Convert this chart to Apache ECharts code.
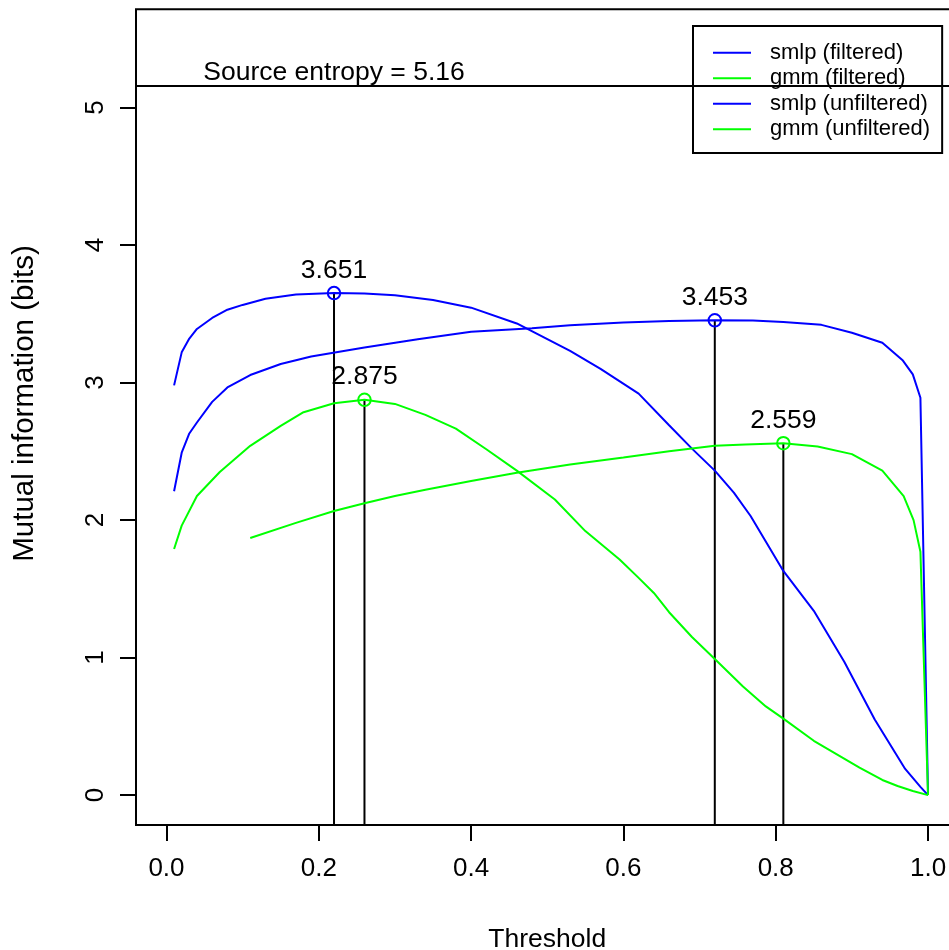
<!DOCTYPE html>
<html>
<head>
<meta charset="utf-8">
<script src="https://cdn.jsdelivr.net/npm/echarts@6/dist/echarts.min.js"></script>
<style>
html,body{margin:0;padding:0;background:#fff;overflow:hidden;}
#chart{width:949px;height:950px;}
</style>
</head>
<body>
<div id="chart"></div>
<script>
// ---- data ----
const seriesNames = ['smlp (filtered)', 'gmm (filtered)', 'smlp (unfiltered)', 'gmm (unfiltered)'];
const seriesColors = ['#0000FF', '#00FF00', '#0000FF', '#00FF00'];

const smlpFilteredX = [0.01,0.02,0.03,0.04,0.06,0.08,0.10,0.13,0.17,0.22,0.26,0.30,0.35,0.40,0.46,0.53,0.57,0.62,0.66,0.69,0.72,0.745,0.767,0.81,0.85,0.89,0.93,0.97,0.99,1.0];
const smlpFilteredY = [2.98,3.22,3.32,3.39,3.47,3.53,3.565,3.61,3.64,3.651,3.648,3.635,3.60,3.545,3.43,3.23,3.10,2.92,2.69,2.52,2.36,2.20,2.03,1.63,1.34,0.97,0.55,0.19,0.06,0.0];

const gmmFilteredX = [0.01,0.02,0.04,0.07,0.11,0.15,0.18,0.22,0.26,0.30,0.34,0.38,0.42,0.46,0.51,0.55,0.595,0.62,0.64,0.66,0.69,0.72,0.757,0.787,0.81,0.85,0.91,0.94,0.96,0.98,1.0];
const gmmFilteredY = [1.79,1.96,2.175,2.35,2.54,2.685,2.785,2.85,2.875,2.845,2.765,2.665,2.515,2.36,2.15,1.92,1.714,1.58,1.47,1.33,1.15,0.99,0.79,0.645,0.556,0.395,0.20,0.11,0.066,0.03,0.0];

const smlpUnfilteredX = [0.01,0.02,0.03,0.04,0.06,0.08,0.11,0.15,0.19,0.26,0.33,0.40,0.48,0.53,0.60,0.66,0.72,0.77,0.81,0.86,0.90,0.94,0.967,0.98,0.99,1.0];
const smlpUnfilteredY = [2.21,2.49,2.63,2.71,2.86,2.965,3.055,3.135,3.19,3.255,3.315,3.37,3.395,3.417,3.437,3.448,3.453,3.451,3.44,3.42,3.363,3.29,3.16,3.06,2.89,0.0];

const gmmUnfilteredX = [0.11,0.17,0.22,0.26,0.30,0.34,0.40,0.46,0.53,0.60,0.66,0.72,0.76,0.81,0.855,0.90,0.94,0.968,0.981,0.99,1.0];
const gmmUnfilteredY = [1.87,1.98,2.066,2.122,2.175,2.22,2.285,2.345,2.405,2.455,2.50,2.54,2.55,2.559,2.536,2.48,2.36,2.175,2.00,1.77,0.0];

const sourceEntropy = 5.16;
const entropyLabelX = 0.22;
const xTicks = [0, 0.2, 0.4, 0.6, 0.8, 1.0];
const yTicks = [0, 1, 2, 3, 4, 5];
const xTitle = 'Threshold';
const yTitle = 'Mutual information (bits)';

// ---- build ----
const curvesX = [smlpFilteredX, gmmFilteredX, smlpUnfilteredX, gmmUnfilteredX];
const curvesY = [smlpFilteredY, gmmFilteredY, smlpUnfilteredY, gmmUnfilteredY];
const X_MIN = -0.04, X_MAX = 1.04, Y_MIN = -0.2175, Y_MAX = 5.715;
const FONT = 'Liberation Sans, Arial, Helvetica, sans-serif';

const series = [];
curvesX.forEach((xs, i) => {
  series.push({
    name: seriesNames[i], type: 'line', symbol: 'none', silent: true,
    data: xs.map((x, j) => [x, curvesY[i][j]]),
    lineStyle: { color: seriesColors[i], width: 2 },
    itemStyle: { color: seriesColors[i] },
    z: 3
  });
});

// peaks computed from data
const peaks = curvesY.map((ys, i) => {
  let k = 0;
  ys.forEach((v, j) => { if (v > ys[k]) k = j; });
  return { x: curvesX[i][k], y: ys[k], color: seriesColors[i] };
});

peaks.forEach(p => {
  series.push({
    type: 'line', symbol: 'none', silent: true,
    data: [[p.x, Y_MIN], [p.x, p.y]],
    lineStyle: { color: '#000', width: 2 }, z: 2
  });
});

series.push({
  type: 'scatter', silent: true,
  symbol: 'circle', symbolSize: 12.5,
  itemStyle: { opacity: 1 },
  data: peaks.map(p => ({ value: [p.x, p.y], itemStyle: { color: 'rgba(255,255,255,0)', borderColor: p.color, borderWidth: 2, opacity: 1 } })),
  label: {
    show: true, position: 'top', distance: 2,
    formatter: (d) => d.value[1].toFixed(3),
    color: '#000', fontSize: 26.5, fontFamily: FONT, opacity: 1
  },
  z: 5
});

// source entropy line + label
series.push({
  type: 'scatter', silent: true, symbolSize: 0,
  itemStyle: { opacity: 1 },
  data: [[entropyLabelX, sourceEntropy]],
  label: {
    show: true, position: 'top', distance: -1,
    formatter: 'Source entropy = ' + sourceEntropy.toFixed(2),
    color: '#000', fontSize: 26.5, fontFamily: FONT, opacity: 1
  },
  markLine: {
    silent: true, symbol: 'none', label: { show: false },
    lineStyle: { color: '#000', width: 2, type: 'solid', opacity: 1 },
    data: [{ yAxis: sourceEntropy }]
  },
  z: 4
});

const chart = echarts.init(document.getElementById('chart'), null, { renderer: 'canvas' });
chart.setOption({
  animation: false,
  backgroundColor: '#fff',
  textStyle: { fontFamily: FONT },
  grid: {
    left: 136, top: 9.3, right: -9.5, bottom: 125,
    show: true, borderColor: '#000', borderWidth: 2, backgroundColor: 'transparent',
    containLabel: false, outerBoundsMode: 'none'
  },
  legend: {
    data: seriesNames,
    orient: 'vertical', left: 693, top: 26,
    padding: [14, 12, 11, 20],
    itemWidth: 38, itemHeight: 2, itemGap: 0,
    icon: 'rect',
    backgroundColor: '#fff', borderColor: '#000', borderWidth: 2, borderRadius: 0,
    selectedMode: false,
    textStyle: { fontSize: 22, color: '#000', fontFamily: FONT, lineHeight: 25.5, padding: [0, 0, 0, 14] }
  },
  graphic: [{
    type: 'text', rotation: Math.PI / 2,
    x: 25, y: 403.5,
    style: { text: yTitle, fontSize: 29.5, fill: '#000', fontFamily: FONT, align: 'center', verticalAlign: 'middle' }
  }],
  xAxis: {
    type: 'value', min: X_MIN, max: X_MAX,
    name: xTitle, nameLocation: 'middle', nameGap: 101,
    nameTextStyle: { fontSize: 26.5, color: '#000', fontFamily: FONT },
    axisLine: { show: false, onZero: false },
    splitLine: { show: false },
    axisTick: { show: true, inside: false, length: 16, customValues: xTicks, lineStyle: { color: '#000', width: 2 } },
    axisLabel: { show: true, customValues: xTicks, margin: 31, fontSize: 26, color: '#000', fontFamily: FONT,
      formatter: v => v.toFixed(1) }
  },
  yAxis: {
    type: 'value', min: Y_MIN, max: Y_MAX,
    axisLine: { show: false, onZero: false },
    splitLine: { show: false },
    axisTick: { show: true, inside: false, length: 16, customValues: yTicks, lineStyle: { color: '#000', width: 2 } },
    axisLabel: { show: true, customValues: yTicks, rotate: 90, margin: 27, fontSize: 26, color: '#000', fontFamily: FONT,
      formatter: v => String(v) }
  },
  series: series
});
</script>
</body>
</html>
